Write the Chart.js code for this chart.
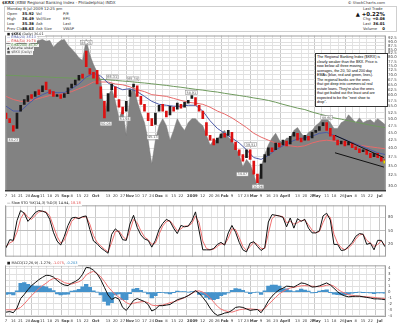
<!DOCTYPE html>
<html>
<head>
<meta charset="utf-8">
<title>$KRX daily</title>
<script src="https://cdn.jsdelivr.net/npm/chart.js@4.4.1/dist/chart.umd.min.js"></script>
<style>
  html, body { margin: 0; padding: 0; background: #fff; }
  body { position: relative; width: 400px; height: 323px; overflow: hidden; font-family: "DejaVu Sans", Arial, sans-serif; color: #222; }
  canvas { position: absolute; left: 0; }
  .tx { position: absolute; white-space: nowrap; font-size: 3.8px; line-height: 4px; color: #333; }
  .b { font-weight: bold; color: #111; }
  #hdrBox { position: absolute; left: 4px; top: 6px; width: 391px; height: 24px; border: 1px solid #cfcfcf; }
  .leg { position: absolute; left: 6px; white-space: nowrap; font-size: 3.3px; line-height: 3.6px; background: rgba(255,255,255,0.9); padding: 0 1px; color: #222; }
  #note { position: absolute; left: 315px; top: 53px; width: 69px; height: 50px; border: 1px solid #333; background: #fff; padding: 1px; font-family: "Liberation Sans", Arial, sans-serif; font-size: 3.7px; line-height: 4.55px; white-space: nowrap; color: #000; z-index: 5; }
  .over { z-index: 4; }
</style>
</head>
<body>

<!-- HEADER -->
<div class="tx" style="left:2px;top:1px;font-size:4px"><b>$KRX</b> (KBW Regional Banking Index - Philadelphia) INDX</div>
<div class="tx" style="right:15px;top:1px;font-size:3.8px">© StockCharts.com</div>
<div id="hdrBox"></div>
<div class="tx" style="left:7px;top:6.5px">Monday 6-Jul-2009 12:25 pm</div>
<div class="tx" style="left:7px;top:12px">Open</div><div class="tx b" style="left:22px;top:12px">35.92</div><div class="tx" style="left:36px;top:12px">Vol</div><div class="tx" style="left:63px;top:12px">P/E</div>
<div class="tx" style="left:7px;top:17px">High</div><div class="tx b" style="left:22px;top:17px">36.49</div><div class="tx" style="left:36px;top:17px">Vol/Size</div><div class="tx" style="left:63px;top:17px">EPS</div>
<div class="tx" style="left:7px;top:22px">Low</div><div class="tx b" style="left:22px;top:22px">35.38</div><div class="tx" style="left:36px;top:22px">Ask</div><div class="tx" style="left:63px;top:22px">Last</div>
<div class="tx" style="left:7px;top:27px">Prev Close</div><div class="tx b" style="left:22px;top:27px">35.63</div><div class="tx" style="left:36px;top:27px">Ask Size</div><div class="tx" style="left:63px;top:27px">VWAP</div>
<div class="tx" style="left:363px;top:6.5px">Last Trade</div>
<div class="tx b" style="right:15px;top:10.5px;font-size:5.4px;line-height:6px">▲ +0.22%</div>
<div class="tx" style="left:363px;top:17px">Chg</div><div class="tx b" style="right:15px;top:17px">+0.08</div>
<div class="tx" style="left:363px;top:22px">Last</div><div class="tx b" style="right:15px;top:22px">36.01</div>
<div class="tx" style="left:363px;top:27px">Volume</div><div class="tx b" style="right:15px;top:27px">0</div>

<!-- PANELS -->
<canvas id="priceChart" width="400" height="170" style="top:31px"></canvas>
<canvas id="stoChart" width="400" height="60" style="top:201px"></canvas>
<canvas id="macdChart" width="400" height="62" style="top:261px"></canvas>

<!-- PRICE LEGEND -->
<div class="leg over" style="top:32.5px">■ <b>$KRX</b> (Daily) 36.01</div>
<div class="leg over" style="top:36.2px;color:#4b5aa8">— EMA(20) 38.13</div>
<div class="leg over" style="top:39.9px;color:#d83c3c">— EMA(50) 39.78</div>
<div class="leg over" style="top:43.6px;color:#4d8a3c">— EMA(200) 46.87</div>
<div class="leg over" style="top:47.3px">▲ Volume undef</div>
<div class="leg over" style="top:51px;color:#555">■ $BKX (Daily)</div>

<div id="note">The Regional Banking Index ($KRX) is<br>clearly weaker than the BKX. Price is<br>now below all three moving<br>averages, the 20, 50 and 200 day<br>EMAs (blue, red and green, lines).<br>The regional banks are the ones<br>that got deep into commercial real<br>estate loans. They're also the ones<br>that got bailed out the least and are<br>expected to be the "next shoe to<br>drop".</div>

<div class="leg over" style="top:202px;font-size:3.5px">— Slow STO %K(14,3) %D(3) 14.94, <span style="color:#e04848">18.18</span></div>
<div class="leg over" style="top:262px;font-size:3.5px">■ MACD(12,26,9) -1.279, <span style="color:#e04848">-1.075</span>, <span style="color:#2f86c2">-0.203</span></div>

<script>
// one sample every 3.5 calendar days starting Mon 7-Jul-2008, EMAs once a week
const SAMPLE_STEP = 3.5;
const EMA_STEP = 7;

// $KRX candles (bodies)
const krxOpen = [
  52.3, 50.1, 47.5, 46.5, 53.1, 55.9, 57.2, 60.2, 59.4, 62.5,
  61.6, 66.3, 62.5, 61.6, 59.4, 60.2, 58.9, 60.7, 63.4, 64.9,
  67.3, 70.4, 84.0, 73.5, 71.4, 72.5, 63.9, 57.2, 53.1, 62.5,
  63.9, 58.0, 54.7, 53.1, 59.4, 63.9, 64.4, 59.4, 55.9, 52.3,
  50.1, 47.9, 53.1, 55.9, 53.1, 51.6, 54.7, 53.9, 55.9, 54.7,
  56.4, 58.5, 58.9, 55.5, 53.1, 48.6, 44.1, 42.9, 41.6, 43.2,
  44.8, 44.1, 45.1, 41.9, 39.5, 38.1, 37.2, 39.5, 36.2, 32.8,
  31.7, 35.9, 37.8, 40.1, 39.5, 41.6, 41.0, 42.2, 41.3, 43.8,
  44.8, 43.2, 42.5, 43.8, 43.2, 45.1, 45.8, 47.5, 48.6, 46.5,
  44.1, 42.5, 41.3, 42.2, 41.0, 41.6, 40.4, 39.8, 38.9, 39.5,
  38.4, 37.5, 38.4, 37.5, 36.6
];
const krxClose = [
  50.1, 48.6, 45.5, 52.3, 55.5, 58.0, 59.8, 58.5, 61.6, 60.2,
  64.4, 62.5, 60.7, 59.4, 60.2, 58.5, 60.7, 63.4, 65.3, 67.3,
  69.8, 68.3, 74.6, 70.4, 68.3, 65.3, 58.5, 50.4, 60.7, 65.3,
  58.9, 54.7, 51.9, 57.2, 62.5, 65.3, 59.4, 55.9, 53.1, 49.3,
  47.5, 52.3, 55.5, 53.1, 50.8, 55.1, 53.1, 56.4, 54.3, 56.8,
  57.6, 59.8, 55.5, 53.1, 50.1, 44.1, 42.5, 41.0, 43.2, 44.5,
  43.5, 45.8, 41.9, 39.5, 37.8, 36.2, 39.5, 36.7, 32.8, 30.7,
  35.4, 38.1, 40.1, 38.9, 41.6, 40.4, 42.5, 40.7, 43.8, 45.1,
  42.5, 41.9, 44.1, 42.5, 45.1, 45.8, 47.2, 48.6, 45.8, 43.8,
  42.5, 41.0, 42.2, 40.7, 41.9, 40.1, 39.5, 38.6, 39.5, 38.1,
  37.2, 38.4, 37.2, 36.2, 36.0
];

// gray comparison area behind the candles
const bkxArea = [
  90.5, 89.1, 87.8, 89.1, 90.5, 89.8, 88.5, 89.1, 90.5, 91.1,
  91.8, 90.5, 91.1, 86.5, 89.1, 91.1, 91.8, 87.8, 85.3, 82.8,
  79.8, 78.1, 91.8, 81.5, 75.8, 71.4, 67.3, 51.2, 59.4, 63.0,
  57.2, 50.1, 53.9, 44.1, 59.4, 64.4, 57.2, 52.3, 48.6, 42.5,
  35.4, 42.5, 47.5, 50.1, 47.5, 42.5, 45.8, 50.1, 47.5, 45.8,
  48.6, 50.1, 50.1, 48.6, 47.5, 44.1, 41.0, 42.5, 42.5, 44.8,
  45.8, 43.5, 42.5, 40.1, 38.1, 34.6, 36.7, 35.4, 32.8, 29.6,
  34.6, 38.1, 41.0, 43.2, 44.8, 42.5, 41.6, 43.2, 43.2, 45.8,
  46.8, 44.8, 43.2, 45.1, 45.8, 47.5, 48.6, 50.4, 50.1, 48.6,
  46.5, 46.5, 48.6, 49.3, 51.6, 50.1, 48.6, 50.4, 48.6, 49.3,
  49.7, 48.6, 50.1, 49.0, 47.9
];

// moving averages, weekly readings
const ema20 = [
  55.1, 53.1, 53.1, 55.9, 58.5, 60.2, 61.6, 61.1, 61.1, 63.0,
  65.3, 68.8, 70.9, 69.3, 65.8, 63.9, 62.5, 63.0, 61.6, 59.4,
  57.2, 55.9, 55.5, 55.1, 55.1, 55.5, 55.5, 53.1, 49.3, 46.5,
  44.8, 43.2, 41.6, 39.5, 37.2, 36.7, 37.8, 39.5, 40.7, 41.9,
  42.9, 43.2, 43.8, 44.8, 45.1, 44.1, 43.2, 42.2, 41.3, 40.4,
  39.5, 38.6, 38.1
];
const ema50 = [
  59.4, 58.0, 57.2, 57.2, 58.0, 58.9, 59.8, 60.2, 60.7, 61.6,
  63.0, 64.4, 66.3, 66.3, 66.3, 65.3, 64.9, 63.9, 62.5, 61.6,
  60.2, 59.8, 59.4, 58.5, 57.6, 56.8, 56.4, 55.9, 54.7, 53.1,
  51.9, 50.4, 48.6, 46.8, 44.8, 43.5, 42.5, 41.6, 41.0, 40.7,
  40.4, 40.7, 41.6, 42.2, 42.5, 42.2, 41.6, 41.3, 41.0, 40.7,
  40.4, 40.1, 39.8
];
const ema200 = [
  69.8, 69.7, 69.5, 69.3, 69.2, 69.0, 68.8, 68.6, 68.5, 68.3,
  68.1, 68.0, 67.8, 67.6, 67.4, 67.1, 66.8, 66.5, 66.1, 65.8,
  65.4, 65.0, 64.6, 64.1, 63.7, 63.2, 62.7, 62.3, 61.8, 61.4,
  60.8, 60.3, 59.8, 59.3, 58.7, 58.2, 57.6, 56.8, 55.9, 55.1,
  54.3, 53.7, 52.7, 51.9, 51.2, 50.4, 49.9, 49.3, 48.8, 48.2,
  47.7, 47.2, 46.8
];

// falling channel drawn at the end
const channelDays = [316, 363];
const channelUpper = [44.1, 37.2];
const channelLower = [38.6, 34.6];

// price labels at swing highs / lows (1 = above, -1 = below)
const noteDays = [7, 77, 96, 102, 114, 122, 141, 178, 227, 235, 242, 308];
const noteValues = [44.23, 86.25, 50.05, 66.31, 51.94, 65.34, 45.13, 58.91, 34.07, 39.51, 30.96, 48.60];
const noteSide = [-1, 1, -1, 1, -1, 1, -1, 1, -1, 1, -1, 1];

// slow stochastics
const stoK = [
  12.5, 30.5, 29, 72.5, 95, 89, 71, 80, 90.5, 95,
  93.5, 90.5, 75.5, 47, 27.5, 18.5, 38, 62, 78.5, 80,
  77, 81.5, 83, 53, 27.5, 21.5, 12.5, 6.5, 0.5, 42.5,
  54.5, 47, 30.5, 29, 65, 84.5, 57.5, 41, 32, 29,
  14, 29, 53, 66.5, 75.5, 71, 56, 44, 62, 59,
  60.5, 72.5, 92, 50, 8, 8, 8, 11, 20, 24.5,
  18.5, 45.5, 62, 47, 24.5, 8, 3.5, 23, 26, 15.5,
  6.5, 12.5, 69.5, 86, 84.5, 83, 80, 59, 78.5, 56,
  77, 71, 75.5, 56, 45.5, 45.5, 50, 83, 89, 74,
  20, 20, 6.5, 8, 15.5, 24.5, 38, 44, 42.5, 20,
  23, 8, 29, 29, 14.9
];
const stoD = [
  15.5, 23, 27.5, 47, 77, 90.5, 80, 75.5, 84.5, 92,
  93.5, 92, 83, 60.5, 38, 23, 29, 50, 71, 78.5,
  78.5, 80, 81.5, 65, 39.5, 24.5, 17, 9.5, 3.5, 24.5,
  48.5, 50, 38, 30.5, 50, 75.5, 68, 50, 36.5, 30.5,
  20, 23, 42.5, 60.5, 71, 72.5, 62, 50, 54.5, 60.5,
  60.5, 66.5, 83, 68, 27.5, 11, 8, 9.5, 15.5, 21.5,
  20, 33.5, 54.5, 53, 35, 15.5, 6.5, 15.5, 24.5, 20,
  11, 11, 44, 77, 84.5, 83, 81.5, 68, 71, 65,
  68, 72.5, 74, 63.5, 51.5, 45.5, 48.5, 68, 84.5, 80,
  42.5, 23, 12.5, 8, 12.5, 20, 32, 41, 42.5, 29,
  23, 15.5, 20, 27.5, 18.2
];

// MACD(12,26,9)
const macdLine = [
  -3.4, -3.3, -3.5, -2.7, -1.1, -0.4, 0.4, 1.1, 1.6, 2.1,
  2.5, 2.85, 2.8, 2.55, 2.0, 1.5, 1.2, 1.1, 1.5, 1.8,
  2.2, 3.0, 4.2, 4.1, 3.7, 3.1, 2.1, 0.8, -0.5, -1.25,
  -0.9, -1.2, -2.6, -3.1, -2.3, -1.4, -1.1, -1.35, -1.6, -2.1,
  -3.2, -2.9, -2.3, -2.3, -2.2, -2.1, -1.7, -1.3, -1.1, -0.9,
  -0.6, -0.2, 0.25, -0.2, -0.9, -1.7, -2.7, -3.5, -3.95, -3.8,
  -3.55, -3.45, -3.1, -2.6, -2.5, -2.6, -2.85, -3.1, -3.0, -2.95,
  -3.5, -2.6, -1.5, -0.7, -0.1, 0.4, 0.65, 1.0, 0.95, 0.85,
  1.2, 1.55, 1.45, 1.2, 0.85, 0.9, 1.05, 1.3, 1.55, 1.2,
  0.65, 0.05, -0.4, -0.65, -0.8, -0.75, -0.7, -0.7, -0.8, -0.9,
  -1.0, -1.15, -1.15, -1.2, -1.28
];
const macdSignal = [
  -3.0, -3.0, -3.0, -2.9, -2.6, -2.0, -1.3, -0.6, 0.0, 0.6,
  1.1, 1.5, 2.0, 2.3, 2.3, 2.0, 1.6, 1.45, 1.35, 1.55,
  1.75, 2.1, 2.9, 3.3, 3.5, 3.1, 2.6, 1.8, 0.9, 0.2,
  -0.4, -0.9, -1.3, -1.8, -2.05, -1.9, -1.75, -1.65, -1.6, -1.8,
  -2.2, -2.3, -2.25, -2.2, -2.0, -1.8, -1.65, -1.45, -1.2, -0.95,
  -0.6, -0.25, 0.15, 0.2, 0.0, -0.4, -0.95, -1.7, -2.4, -2.9,
  -3.15, -3.3, -3.4, -3.2, -3.0, -2.9, -2.85, -2.85, -2.9, -2.95,
  -3.1, -2.8, -2.1, -1.5, -0.9, -0.3, 0.1, 0.45, 0.7, 0.8,
  0.95, 1.05, 1.1, 1.05, 1.0, 0.95, 0.9, 1.0, 1.15, 1.25,
  1.0, 0.5, 0.1, -0.2, -0.45, -0.55, -0.65, -0.7, -0.75, -0.8,
  -0.85, -0.9, -1.0, -1.05, -1.08
];
const macdHist = [
  -0.4, -0.3, -0.5, 0.2, 1.5, 1.6, 1.3, 1.1, 1.0, 1.0,
  1.0, 0.9, 0.6, 0.25, -0.3, -0.5, -0.4, -0.35, 0.15, 0.25,
  0.45, 0.9, 1.3, 0.8, 0.2, 0.0, -0.5, -1.6, -2.2, -1.8,
  -0.5, -0.3, -1.3, -1.3, -0.25, 0.5, 0.65, 0.3, 0.0, -0.3,
  -1.0, -0.6, -0.05, -0.1, -0.2, -0.3, -0.05, 0.15, 0.1, 0.05,
  0.0, 0.05, 0.1, -0.4, -0.5, -0.9, -1.2, -1.3, -1.1, -0.6,
  -0.4, -0.15, 0.3, 0.6, 0.5, 0.3, 0.0, -0.25, -0.1, 0.0,
  -0.4, 0.2, 1.0, 1.2, 1.2, 1.0, 0.55, 0.55, 0.25, 0.05,
  0.25, 0.5, 0.35, 0.15, -0.15, -0.05, 0.15, 0.3, 0.4, -0.05,
  -0.35, -0.45, -0.5, -0.45, -0.35, -0.2, -0.05, 0.0, -0.05, -0.1,
  -0.15, -0.25, -0.15, -0.15, -0.2
];

// x axis: calendar days after 7-Jul-2008
const tickDays = [0, 7, 14, 21, 28, 35, 42, 49, 57, 63, 70, 77, 86, 98, 105, 112, 119, 126, 133, 140,
  147, 154, 161, 168, 179, 189, 197, 203, 210, 217, 225, 231, 238, 245, 252, 259, 268, 280, 287, 294,
  298, 308, 315, 323, 329, 336, 343, 350, 359];
const tickLabels = ['7', '14', '21', '28', 'Aug', '11', '18', '25', 'Sep', '8', '15', '22', 'Oct', '13', '20', '27', 'Nov', '10', '17', '24',
  'Dec', '8', '15', '22', '2009', '12', '20', '26', 'Feb', '9', '17', '23', 'Mar', '9', '16', '23', 'April', '13', '20', '27',
  'May', '11', '18', '26', 'Jun', '8', '15', '22', 'Jul'];
const priceTicks = [30, 32.5, 35, 37.5, 40, 42.5, 45, 47.5, 50, 52.5, 55, 57.5, 60, 62.5, 65, 67.5, 70, 72.5,
  75, 77.5, 80, 82.5, 85, 87.5, 90, 92.5];
const stoTicks = [20, 50, 80];
const macdTicks = [-4, -3, -2, -1, 0, 1, 2, 3, 4];

const monthNames = new Set(['Aug', 'Sep', 'Oct', 'Nov', 'Dec', '2009', 'Feb', 'Mar', 'April', 'May', 'Jun', 'Jul']);

const RED = '#dd1111';
const BLACK = '#1a1a1a';

Chart.defaults.font.family = '"DejaVu Sans", sans-serif';
Chart.defaults.animation = false;
Chart.defaults.plugins.legend.display = false;
Chart.defaults.plugins.tooltip.enabled = false;

const sampleDays = krxClose.map((_, i) => i * SAMPLE_STEP);
const emaDays = ema20.map((_, i) => i * EMA_STEP);

function pts(days, vals) {
  return vals.map((v, i) => ({ x: days[i], y: v }));
}

function lineSet(data, color, order) {
  return { type: 'line', data: data, borderColor: color, borderWidth: 1, pointRadius: 0, tension: 0, fill: false, order: order };
}

function timeAxis(showLabels, labelH) {
  return {
    type: 'linear', min: -1, max: 365, offset: false,
    afterBuildTicks: (s) => { s.ticks = tickDays.map((v) => ({ value: v })); },
    afterFit: (s) => { s.height = showLabels ? labelH : 0; },
    grid: { color: (c) => (monthNames.has(tickLabels[c.index]) ? '#c9c9c9' : '#e3e3e3'), drawTicks: false },
    border: { display: false },
    ticks: {
      display: showLabels, autoSkip: false, maxRotation: 0, padding: 1.5, color: '#444',
      font: (c) => ({ size: 3.8, weight: monthNames.has(tickLabels[c.index]) ? 'bold' : 'normal' }),
      callback: (v, i) => tickLabels[i],
    },
  };
}

function valueAxis(min, max, ticks, fmt, extra) {
  return Object.assign({
    position: 'right', min: min, max: max,
    afterBuildTicks: (s) => { s.ticks = ticks.map((v) => ({ value: v })); },
    afterFit: (s) => { s.width = 14; },
    grid: { color: '#e0e0e0', drawTicks: false },
    border: { display: false },
    ticks: { autoSkip: false, padding: 2, color: '#444', font: { size: 3.9 }, callback: fmt },
  }, extra || {});
}

function framePlugin(bottomColor) {
  return {
    id: 'frame',
    afterDraw(chart) {
      const { ctx, chartArea: a } = chart;
      ctx.save();
      ctx.lineWidth = 1;
      ctx.strokeStyle = '#a0a0a0';
      ctx.strokeRect(a.left + 0.5, a.top + 0.5, a.right - a.left - 1, a.bottom - a.top - 1);
      if (bottomColor) {
        ctx.strokeStyle = bottomColor;
        ctx.beginPath();
        ctx.moveTo(a.left, a.bottom - 1.5);
        ctx.lineTo(a.right, a.bottom - 1.5);
        ctx.stroke();
      }
      ctx.restore();
    },
  };
}

const notesPlugin = {
  id: 'notes',
  afterDatasetsDraw(chart) {
    const { ctx, scales } = chart;
    ctx.save();
    ctx.font = '3.4px "DejaVu Sans"';
    ctx.textAlign = 'center';
    ctx.textBaseline = 'middle';
    noteDays.forEach((d, i) => {
      const px = scales.x.getPixelForValue(d);
      const py = scales.y.getPixelForValue(noteValues[i]) - noteSide[i] * 5;
      const label = noteValues[i].toFixed(2);
      const w = ctx.measureText(label).width + 2;
      ctx.fillStyle = '#fff';
      ctx.fillRect(px - w / 2, py - 2, w, 4);
      ctx.strokeStyle = '#888';
      ctx.lineWidth = 0.5;
      ctx.strokeRect(px - w / 2, py - 2, w, 4);
      ctx.fillStyle = '#555';
      ctx.fillText(label, px, py + 0.2);
    });
    ctx.restore();
  },
};

/* PRICE PANEL */
new Chart(document.getElementById('priceChart'), {
  type: 'bar',
  data: {
    datasets: [
      lineSet(pts(channelDays, channelUpper), '#111', 0),
      lineSet(pts(channelDays, channelLower), '#111', 0),
      {
        type: 'line', data: [{ x: sampleDays[sampleDays.length - 1], y: krxClose[krxClose.length - 1] }],
        pointRadius: 2, pointStyle: 'rect', pointBackgroundColor: '#f2e600', pointBorderColor: '#b8a800',
        pointBorderWidth: 0.5, showLine: false, order: 0,
      },
      {
        type: 'bar',
        data: krxClose.map((c, i) => ({ x: sampleDays[i], y: [krxOpen[i], c] })),
        backgroundColor: (c) => (c.raw && c.raw.y[1] < c.raw.y[0] ? RED : BLACK),
        barThickness: 2, minBarLength: 1, order: 1,
      },
      lineSet(pts(emaDays, ema20), '#4b5aa8', 2),
      lineSet(pts(emaDays, ema50), '#e86b6b', 2),
      lineSet(pts(emaDays, ema200), '#6f9a5e', 2),
      {
        type: 'line', data: pts(sampleDays, bkxArea), fill: 'start',
        backgroundColor: '#828282', borderColor: '#777', borderWidth: 0.5,
        pointRadius: 0, tension: 0, order: 9,
      },
    ],
  },
  options: {
    responsive: false,
    layout: { padding: { left: 5, top: 1, right: 0, bottom: 0 } },
    scales: {
      x: timeAxis(true, 9),
      y: valueAxis(28.6, 94.6, priceTicks, (v) => Number(v).toFixed(1), { type: 'logarithmic' }),
    },
  },
  plugins: [framePlugin('#3a3a3a'), notesPlugin],
});

/* SLOW STOCHASTICS PANEL */
new Chart(document.getElementById('stoChart'), {
  type: 'line',
  data: {
    datasets: [
      lineSet(pts(sampleDays, stoK), '#111', 0),
      lineSet(pts(sampleDays, stoD), '#f07070', 1),
    ],
  },
  options: {
    responsive: false,
    layout: { padding: { left: 5, top: 0, right: 0, bottom: 0 } },
    scales: {
      x: timeAxis(false, 0),
      y: valueAxis(-7.1, 106.5, stoTicks, (v) => String(v), { type: 'linear', grid: { color: (c) => (c.tick.value === 50 ? '#bdbdbd' : '#d6d6d6'), drawTicks: false } }),
    },
  },
  plugins: [framePlugin(null)],
});

/* MACD PANEL */
new Chart(document.getElementById('macdChart'), {
  type: 'bar',
  data: {
    datasets: [
      lineSet(pts(sampleDays, macdLine), '#111', 0),
      lineSet(pts(sampleDays, macdSignal), '#f07070', 1),
      {
        type: 'bar', data: pts(sampleDays, macdHist),
        backgroundColor: '#4593cc', borderWidth: 0,
        barPercentage: 1, categoryPercentage: 1, order: 2,
      },
    ],
  },
  options: {
    responsive: false,
    layout: { padding: { left: 5, top: 0, right: 0, bottom: 0 } },
    scales: {
      x: timeAxis(true, 6),
      y: valueAxis(-4.22, 4.53, macdTicks, (v) => String(v), { type: 'linear' }),
    },
  },
  plugins: [framePlugin(null)],
});
</script>
</body>
</html>
